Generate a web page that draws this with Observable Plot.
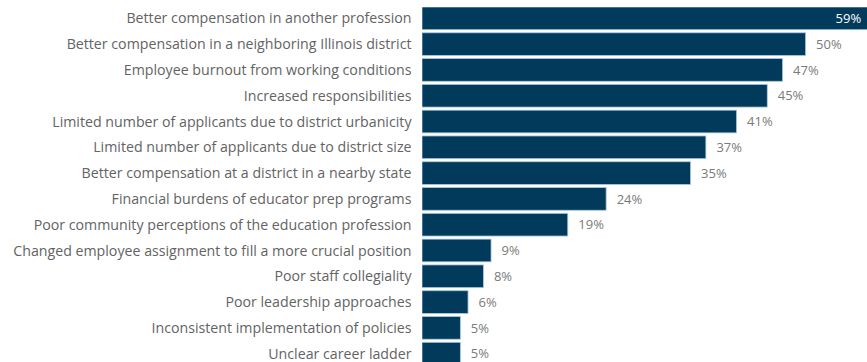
<!DOCTYPE html>
<html>
<head>
<meta charset="utf-8">
<script src="https://cdn.jsdelivr.net/npm/d3@7"></script>
<script src="https://cdn.jsdelivr.net/npm/@observablehq/plot@0.6"></script>
<style>
  html, body { margin: 0; padding: 0; background: #fff; overflow: hidden; }
</style>
</head>
<body>
<div id="chart"></div>
<script>
const categories = [
  "Better compensation in another profession",
  "Better compensation in a neighboring Illinois district",
  "Employee burnout from working conditions",
  "Increased responsibilities",
  "Limited number of applicants due to district urbanicity",
  "Limited number of applicants due to district size",
  "Better compensation at a district in a nearby state",
  "Financial burdens of educator prep programs",
  "Poor community perceptions of the education profession",
  "Changed employee assignment to fill a more crucial position",
  "Poor staff collegiality",
  "Poor leadership approaches",
  "Inconsistent implementation of policies",
  "Unclear career ladder"
];
const values = [59, 50, 47, 45, 41, 37, 35, 24, 19, 9, 8, 6, 5, 5];

const data = categories.map((c, i) => ({category: c, value: values[i]}));
const maxVal = d3.max(values);

const chart = Plot.plot({
  width: 867,
  height: 362,
  marginLeft: 422,
  marginRight: 0,
  marginTop: 7,
  marginBottom: 0,
  style: {fontFamily: "'Open Sans', sans-serif", fontSize: "14px", background: "#fff"},
  x: {domain: [0, 58], axis: null},
  y: {domain: categories, range: [7, 365], paddingInner: 0.12, paddingOuter: 0, round: false, axis: null},
  marks: [
    Plot.barX(data, {x: "value", y: "category", fill: "#023a5c", stroke: "#a9c8de", strokeWidth: 0.8, clip: true}),
    Plot.text(data, {
      x: 0, y: "category", text: "category", textAnchor: "end", dx: -11,
      fill: "#636363", fontSize: 14.2
    }),
    Plot.text(data.filter(d => d.value === maxVal), {
      x: "value", y: "category", text: d => d.value + "%", textAnchor: "end", dx: -14,
      fill: "#ffffff", fontSize: 13
    }),
    Plot.text(data.filter(d => d.value !== maxVal), {
      x: "value", y: "category", text: d => d.value + "%", textAnchor: "start", dx: 10,
      fill: "#7a7a7a", fontSize: 13
    })
  ]
});
document.getElementById("chart").appendChild(chart);
</script>
</body>
</html>
